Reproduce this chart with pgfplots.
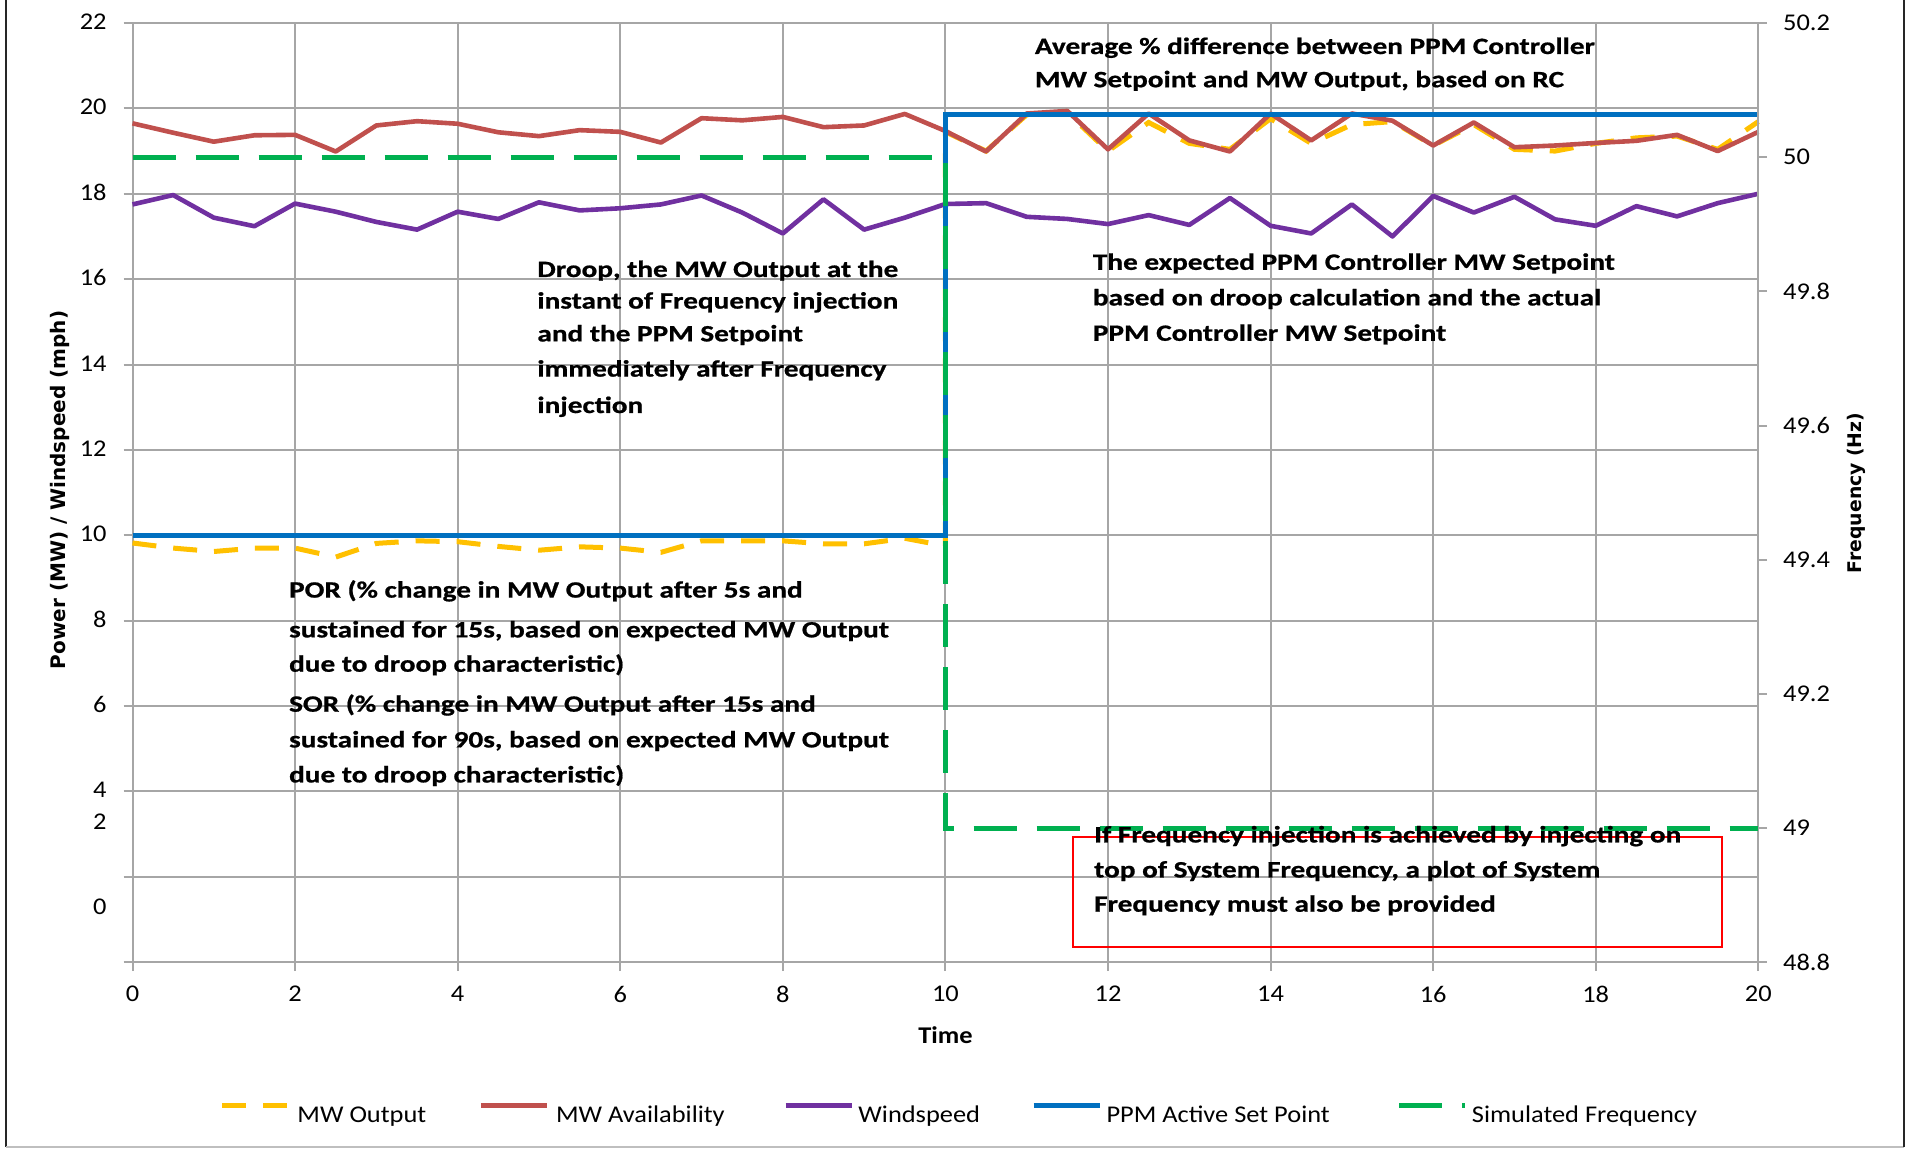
\documentclass[border=0pt]{standalone}
\usepackage{fontspec}
\setmainfont{Carlito}
\newfontfamily\tickfont{Carlito}[FakeStretch=1.1]
\newfontfamily\annotfont{Carlito}[FakeStretch=1.25, BoldFeatures={FakeBold=0.8}]
\newfontfamily\labelfont{DejaVu Sans}
\usepackage{pgfplots}
\pgfplotsset{compat=1.18}
\usepackage{pgfplotstable}

\definecolor{cOut}{RGB}{255,192,0}
\definecolor{cAvail}{RGB}{192,80,77}
\definecolor{cWind}{RGB}{112,48,160}
\definecolor{cPPM}{RGB}{0,112,192}
\definecolor{cFreq}{RGB}{0,176,80}
\definecolor{cGrid}{RGB}{166,166,166}

\pgfplotstableread{
t avail wind
0 19.65 17.75
0.5 19.43 17.97
1 19.22 17.44
1.5 19.37 17.24
2 19.38 17.77
2.5 18.99 17.58
3 19.60 17.34
3.5 19.70 17.16
4 19.64 17.58
4.5 19.44 17.41
5 19.35 17.80
5.5 19.49 17.61
6 19.45 17.66
6.5 19.20 17.75
7 19.77 17.96
7.5 19.72 17.56
8 19.80 17.07
8.5 19.56 17.87
9 19.60 17.16
9.5 19.87 17.44
10 19.47 17.76
10.5 18.99 17.78
11 19.88 17.46
11.5 19.94 17.41
12 19.04 17.29
12.5 19.88 17.50
13 19.25 17.27
13.5 18.99 17.90
14 19.88 17.25
14.5 19.25 17.07
15 19.88 17.75
15.5 19.71 17.00
16 19.13 17.95
16.5 19.67 17.56
17 19.09 17.93
17.5 19.13 17.40
18 19.19 17.25
18.5 19.24 17.71
19 19.38 17.47
19.5 19.00 17.78
20 19.45 18.00
}\mainT

\pgfplotstableread{
t out
0 9.82
0.5 9.70
1 9.62
1.5 9.70
2 9.70
2.5 9.49
3 9.81
3.5 9.87
4 9.85
4.5 9.74
5 9.65
5.5 9.73
6 9.70
6.5 9.60
7 9.87
7.5 9.87
8 9.87
8.5 9.80
9 9.80
9.5 9.93
10 9.75
10 19.45
10.5 19.00
11 19.85
11.5 19.90
12 19.00
12.5 19.67
13 19.18
13.5 19.04
14 19.76
14.5 19.18
15 19.62
15.5 19.69
16 19.13
16.5 19.62
17 19.04
17.5 19.00
18 19.18
18.5 19.31
19 19.35
19.5 19.04
20 19.69
}\outT

\pgfplotstableread{
t ppm
0 10
10 10
10 19.85
20 19.85
}\ppmT

\pgfplotstableread{
t f
0 50
10 50
10 49
20 49
}\freqT

\newcommand\annot{\annotfont\bfseries\fontsize{11.7}{14}\selectfont}
\newcommand\aline[3]{\node[anchor=base west, inner sep=0pt, font=\annot] at (#1pt,#2pt) {#3};}

\begin{document}
\begin{tikzpicture}
\pgfplotsset{
  common/.style={
    at={(66.25pt,92.9pt)}, anchor=south west,
    scale only axis, width=812.9pt, height=469.6pt,
    xmin=0, xmax=20, clip=false,
    tick align=outside, major tick length=4.4pt,
    axis line style={cGrid, line width=1pt},
    tick style={cGrid, line width=1pt},
    ticklabel style={font=\tickfont\fontsize{12}{14}\selectfont, text=black},
    /pgf/number format/assume math mode=true,
  }
}
\begin{axis}[common,
  ymin=0, ymax=22,
  xtick={0,2,...,20}, ytick={0,2,...,22},
  yticklabels={,,4,6,8,10,12,14,16,18,20,22},
  extra y ticks={3.27,1.27}, extra y tick labels={2,0},
  extra y tick style={grid=none, tick style={draw=none}},
  grid=major, grid style={cGrid, line width=1pt},
  xtick pos=left, ytick pos=left,
  xticklabel style={anchor=north, inner sep=0pt, yshift=-7.4pt},
  yticklabel style={anchor=east, inner sep=0pt, xshift=-8.35pt, yshift=0.6pt},
  xlabel={Time},
  xlabel style={font=\tickfont\bfseries\fontsize{12}{14}\selectfont, at={(axis description cs:0.5,-0.0782)}, anchor=center},
  ylabel={Power (MW) / Windspeed (mph)},
  ylabel style={font=\labelfont\bfseries\fontsize{10}{12}\selectfont, at={(axis description cs:-0.0445,0.5028)}, anchor=center},
]
\addplot[cOut, line width=2.5pt, dash pattern=on 12pt off 8.5pt] table[x=t, y=out] {\outT};
\addplot[cAvail, line width=2.3pt, line join=round] table[x=t, y=avail] {\mainT};
\addplot[cWind, line width=2.3pt, line join=round] table[x=t, y=wind] {\mainT};
\addplot[cPPM, line width=2.5pt] table[x=t, y=ppm] {\ppmT};
\end{axis}
\begin{axis}[common,
  ymin=48.8, ymax=50.2,
  axis x line=none, axis y line*=right,
  ytick={48.8,49,49.2,49.4,49.6,49.8,50,50.2},
  yticklabel style={anchor=west, inner sep=0pt, xshift=7.8pt},
  ylabel={Frequency (Hz)},
  ylabel style={font=\labelfont\bfseries\fontsize{9.4}{11}\selectfont, at={(axis description cs:1.0605,0.4996)}, anchor=center},
  legend columns=5,
  legend cell align=left,
  legend style={at={(axis description cs:0.0535,-0.1493)}, anchor=north west,
    draw=none, fill=none, inner sep=0pt,
    font=\tickfont\fontsize{12}{14}\selectfont,
    nodes={inner sep=0pt, text height=9pt, text depth=3pt},
    /tikz/column 1/.append style={column sep=3.3pt},
    /tikz/column 3/.append style={column sep=3.3pt},
    /tikz/column 5/.append style={column sep=2.2pt},
    /tikz/column 7/.append style={column sep=2.2pt},
    /tikz/column 9/.append style={column sep=2.2pt},
    /tikz/column 2/.append style={column sep=26.1pt},
    /tikz/column 4/.append style={column sep=29.2pt},
    /tikz/column 6/.append style={column sep=25.5pt},
    /tikz/column 8/.append style={column sep=33.4pt}},
  legend image code/.code={\draw[#1] (0pt,5.4pt) -- (33pt,5.4pt);},
]
\addlegendimage{cOut, line width=2.5pt, dash pattern=on 12pt off 8.5pt}
\addlegendentry{MW Output}
\addlegendimage{cAvail, line width=2.5pt}
\addlegendentry{MW Availability}
\addlegendimage{cWind, line width=2.5pt}
\addlegendentry{Windspeed}
\addlegendimage{cPPM, line width=2.5pt}
\addlegendentry{PPM Active Set Point}
\addplot[cFreq, line width=2.5pt, dash pattern=on 21.5pt off 10pt] table[x=t, y=f] {\freqT};
\addlegendentry{Simulated Frequency}
\end{axis}

% annotations
\aline{268.5}{435.5}{Droop, the MW Output at the}
\aline{268.5}{419.7}{instant of Frequency injection}
\aline{268.5}{403.3}{and the PPM Setpoint}
\aline{268.5}{385.7}{immediately after Frequency}
\aline{268.5}{367.5}{injection}

\aline{517.25}{547}{Average \% difference between PPM Controller}
\aline{517.25}{530.4}{MW Setpoint and MW Output, based on RC}

\aline{546.25}{439.1}{The expected PPM Controller MW Setpoint}
\aline{546.25}{421.3}{based on droop calculation and the actual}
\aline{546.25}{403.6}{PPM Controller MW Setpoint}

\aline{144.35}{275.2}{POR (\% change in MW Output after 5s and}
\aline{144.35}{255.3}{sustained for 15s, based on expected MW Output}
\aline{144.35}{238.15}{due to droop characteristic)}
\aline{144.35}{218.15}{SOR (\% change in MW Output after 15s and}
\aline{144.35}{200.3}{sustained for 90s, based on expected MW Output}
\aline{144.35}{182.8}{due to droop characteristic)}

\draw[red, line width=0.9pt] (536.5pt,100.35pt) rectangle (861pt,155.65pt);
\aline{546.9}{152.8}{If Frequency injection is achieved by injecting on}
\aline{546.9}{135.3}{top of System Frequency, a plot of System}
\aline{546.9}{118.15}{Frequency must also be provided}

% outer frame
\draw[black!85, line width=1pt] (3pt,580pt) -- (3pt,0.65pt);
\draw[black!25, line width=1pt] (3pt,0.65pt) -- (952pt,0.65pt);
\draw[black!85, line width=1pt] (952pt,0.65pt) -- (952pt,580pt);

\pgfresetboundingbox
\useasboundingbox (0pt,0pt) rectangle (955pt,574pt);
\end{tikzpicture}
\end{document}
